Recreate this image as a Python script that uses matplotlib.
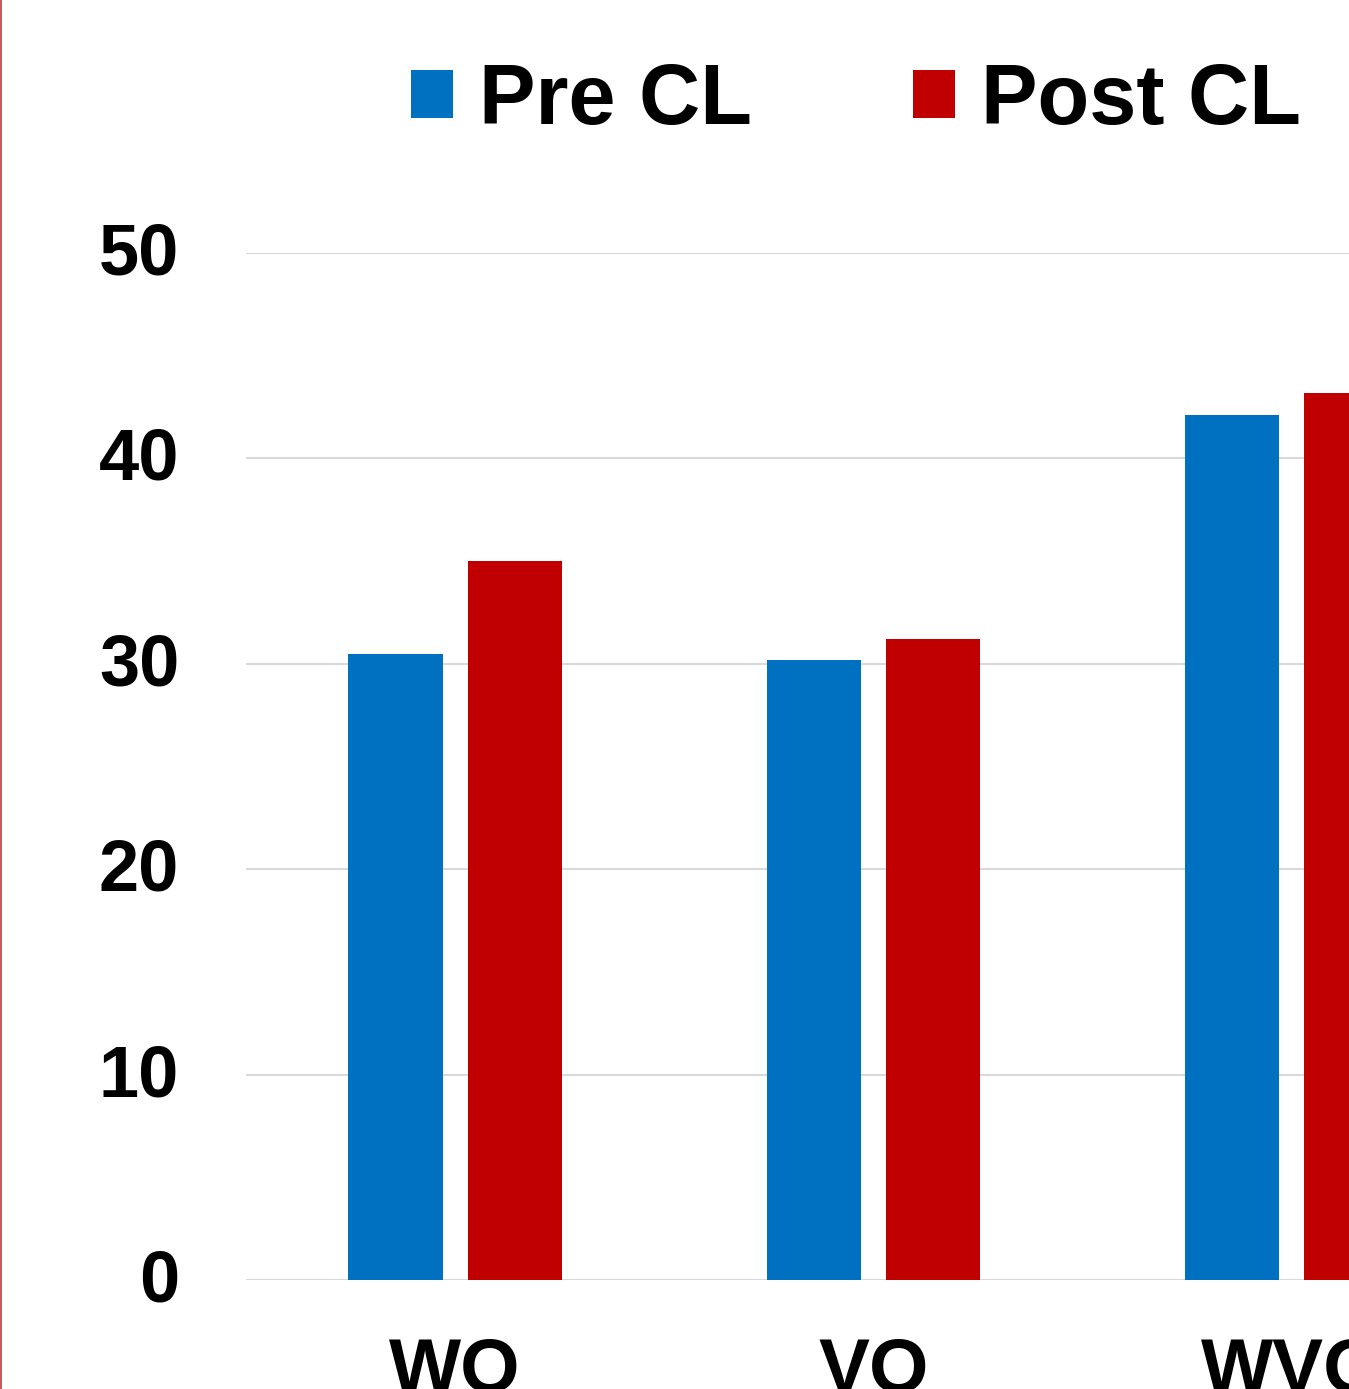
import matplotlib
matplotlib.use("Agg")
import matplotlib.pyplot as plt
import matplotlib.transforms as mtransforms
import numpy as np
from matplotlib.lines import Line2D

categories = ["WO", "VO", "WVO"]
pre_cl = [30.5, 30.2, 42.1]
post_cl = [35.0, 31.2, 43.2]
y_ticks = [0, 10, 20, 30, 40, 50]

plt.rcParams['font.family'] = ['Liberation Sans', 'DejaVu Sans']
plt.rcParams['font.weight'] = 'bold'

fig = plt.figure(figsize=(13.49, 13.89), dpi=100)
ax = fig.add_axes([0.18236, 0.07847, 0.9303, 0.73938])

x = np.arange(len(categories))
w = 0.225
off = 0.1425
ax.bar(x - off, pre_cl, width=w, color="#0070C0", label="Pre CL", zorder=3)
ax.bar(x + off, post_cl, width=w, color="#C00000", label="Post CL", zorder=3)

ax.set_xlim(-0.5, 2.5)
ax.set_ylim(0, 50)
ax.set_yticks(y_ticks)
ax.set_yticklabels([str(v) for v in y_ticks], fontsize=52, fontweight='bold')
ax.set_xticks(x)
ax.set_xticklabels(categories, fontsize=55, fontweight='bold')
ax.tick_params(axis='y', length=0, pad=48)
ax.tick_params(axis='x', length=0, pad=41)
shift = mtransforms.ScaledTranslation(0, 5 / 100, fig.dpi_scale_trans)
for lab in ax.get_yticklabels():
    lab.set_transform(lab.get_transform() + shift)
ax.grid(axis='y', color="#D9D9D9", linewidth=1.5, zorder=0)
ax.set_axisbelow(True)
for s in ax.spines.values():
    s.set_visible(False)

leg = ax.legend(loc='center left', bbox_to_anchor=(0.3047, 0.9265),
                bbox_transform=fig.transFigure, ncol=2, frameon=False,
                prop={'size': 61, 'weight': 'bold'},
                handlelength=0.5, handleheight=0.5, handletextpad=0.3,
                columnspacing=1.9, borderpad=0, borderaxespad=0)

fig.add_artist(Line2D([0.0006, 0.0006], [0, 1], transform=fig.transFigure,
                      color="#C0393B", linewidth=1.2))

fig.savefig("out.png", dpi=100)
